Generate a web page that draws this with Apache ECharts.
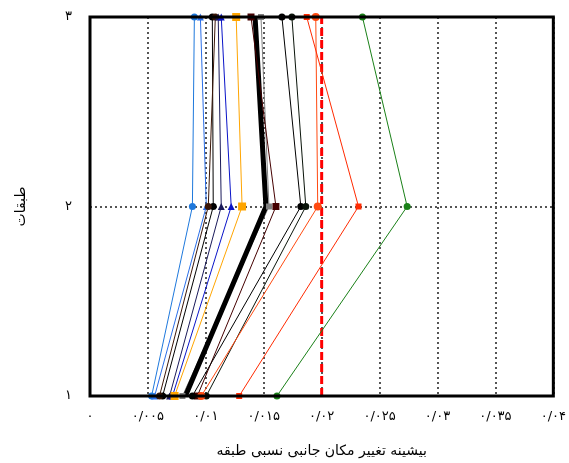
<!DOCTYPE html>
<html><head><meta charset="utf-8">
<script src="https://cdn.jsdelivr.net/npm/echarts@6/dist/echarts.min.js"></script>
<style>html,body{margin:0;padding:0;background:#fff}#c{width:569px;height:463px}</style>
</head><body><div id="c"></div>
<script>
const stories = [1, 2, 3];
const xTickLabels = ['۰','۰/۰۰۵','۰/۰۱','۰/۰۱۵','۰/۰۲','۰/۰۲۵','۰/۰۳','۰/۰۳۵','۰/۰۴'];
const yTickLabels = ['۱','۲','۳'];
const xTitle = 'بیشینه تغییر مکان جانبی نسبی طبقه';
const yTitle = 'طبقات';

const s1 = [0.00532, 0.00884, 0.00901];
const s2 = [0.00558, 0.01004, 0.00953];
const s3 = [0.00627, 0.01064, 0.01056];
const s4 = [0.00600, 0.01021, 0.01082];
const s5 = [0.00687, 0.01133, 0.01107];
const s6 = [0.00712, 0.01219, 0.01133];
const s7 = [0.00730, 0.01313, 0.01262];
const s8 = [0.00798, 0.01545, 0.01476];
const s9 = [0.00824, 0.01519, 0.01425];
const s10 = [0.00927, 0.01605, 0.01390];
const s11 = [0.00884, 0.01820, 0.01657];
const s12 = [0.01004, 0.01863, 0.01743];
const s13 = [0.00961, 0.01966, 0.01949];
const s14 = [0.01288, 0.02318, 0.01871];
const s15 = [0.01614, 0.02738, 0.02352];
const limit = [0.02, 0.02, 0.02];

const defs = [
  [s1, '#1e78dc', 'circle', 1, 7],
  [s2, '#2a6ee8', 'triangle', 1, 7],
  [s3, '#000000', 'circle', 1, 7],
  [s4, '#3a1608', 'circle', 1, 7],
  [s5, '#1a1a5a', 'triangle', 1, 7],
  [s6, '#0a14c8', 'triangle', 1, 7],
  [s7, '#ffa500', 'rect', 1, 8],
  [s8, '#808080', 'rect', 1, 6],
  [s9, '#000000', 'none', 5, 0],
  [s10, '#450000', 'rect', 1, 7],
  [s11, '#000000', 'circle', 1, 7],
  [s12, '#0a140a', 'circle', 1, 7],
  [s13, '#ff4a10', 'circle', 1, 8],
  [s14, '#ff2a00', 'rect', 1, 6],
  [s15, '#1a8018', 'circle', 1, 7]
];

const series = defs.map(d => ({
  type: 'line',
  data: d[0].map((v, i) => [v, stories[i]]),
  symbol: d[2],
  symbolSize: d[4],
  lineStyle: {color: d[1], width: d[3]},
  itemStyle: {color: d[1]},
  z: 3
}));
series.push({
  type: 'line',
  data: limit.map((v, i) => [v, stories[i]]),
  symbol: 'none',
  lineStyle: {color: '#ff0000', width: 3, type: [8, 4]},
  z: 2
});

const chart = echarts.init(document.getElementById('c'));
chart.setOption({
  animation: false,
  grid: {left: 90, right: 13, top: 17, bottom: 65, show: true, borderColor: '#000', borderWidth: 3, z: 4},
  xAxis: {
    type: 'value', min: 0, max: 0.04, interval: 0.005,
    axisLine: {show: false}, axisTick: {show: false},
    splitLine: {show: true, lineStyle: {color: '#555', type: [2, 3], width: 2}},
    axisLabel: {formatter: (v) => xTickLabels[Math.round(v / 0.005)], color: '#000', fontSize: 13, fontFamily: 'DejaVu Sans', margin: 14},
    name: xTitle, nameLocation: 'middle', nameGap: 48,
    nameTextStyle: {color: '#000', fontSize: 14, fontFamily: 'DejaVu Sans'}
  },
  yAxis: {
    type: 'value', min: 1, max: 3, interval: 1,
    axisLine: {show: false}, axisTick: {show: false},
    splitLine: {show: true, lineStyle: {color: '#555', type: [2, 3], width: 2}},
    axisLabel: {formatter: (v) => yTickLabels[Math.round(v) - 1], color: '#000', fontSize: 13, fontFamily: 'DejaVu Sans', margin: 18},
    name: yTitle, nameLocation: 'middle', nameGap: 62, nameRotate: 90,
    nameTextStyle: {color: '#000', fontSize: 14, fontFamily: 'DejaVu Sans'}
  },
  series: series
});
</script>
</body></html>
